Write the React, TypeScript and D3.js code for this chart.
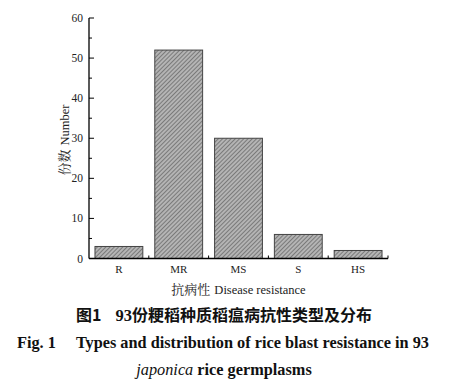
import React from "react";
import * as d3 from "d3";

const categories = ["R", "MR", "MS", "S", "HS"];
const counts = [3, 52, 30, 6, 2];
const yTicks = [0, 10, 20, 30, 40, 50, 60];
const yMinorTicks = [5, 15, 25, 35, 45, 55];

export default function App() {
  const W = 452, H = 385;
  const left = 89, right = 388, top = 18, bottom = 258.5;
  const x = d3.scaleBand<string>().domain(categories).range([left, right]).paddingInner(0.2).paddingOuter(0.1);
  const y = d3.scaleLinear().domain([0, 60]).range([bottom, top]);
  const step = x.step();
  const boundaries = categories.slice(0, -1).map((c) => (x(c) as number) + x.bandwidth() + (step * 0.2) / 2);
  const serif = "'Liberation Serif', 'Times New Roman', serif";
  const cjk = "'Noto Serif CJK SC', 'Noto Sans CJK SC', serif";
  return (
    <svg width={W} height={H} style={{ position: "absolute", left: 0, top: 0, background: "#fff" }}>
      <defs>
        <pattern id="hatch" patternUnits="userSpaceOnUse" width="3" height="3" patternTransform="rotate(45)">
          <rect width="3" height="3" fill="#b4b4b4" />
          <line x1="0" y1="0" x2="0" y2="3" stroke="#5a5a5a" strokeWidth="1.3" />
        </pattern>
      </defs>
      {counts.map((v, i) => (
        <rect key={categories[i]} x={x(categories[i])} y={y(v)} width={x.bandwidth()} height={bottom - y(v)}
          fill="url(#hatch)" stroke="#444" strokeWidth={1} />
      ))}
      {/* y axis */}
      <line x1={left} x2={left} y1={top} y2={bottom} stroke="#000" strokeWidth={1.3} />
      {yTicks.map((t) => (
        <g key={t}>
          <line x1={left} x2={left + 5} y1={y(t)} y2={y(t)} stroke="#000" strokeWidth={1} />
          <text x={left - 6} y={y(t)} dy="0.35em" textAnchor="end" fontFamily={serif} fontSize={11.5} fill="#222">{t}</text>
        </g>
      ))}
      {yMinorTicks.map((t) => (
        <line key={t} x1={left} x2={left + 3} y1={y(t)} y2={y(t)} stroke="#000" strokeWidth={1} />
      ))}
      {/* x axis */}
      <line x1={left} x2={right} y1={bottom} y2={bottom} stroke="#000" strokeWidth={1.3} />
      {boundaries.map((b, i) => (
        <line key={i} x1={b} x2={b} y1={bottom} y2={bottom - 3} stroke="#000" strokeWidth={1} />
      ))}
      <line x1={right} x2={right} y1={bottom} y2={bottom - 3} stroke="#000" strokeWidth={1} />
      {categories.map((c) => (
        <text key={c} x={(x(c) as number) + x.bandwidth() / 2} y={273} textAnchor="middle" fontFamily={serif} fontSize={11} fill="#222">{c}</text>
      ))}
      <text x={238.5} y={294} textAnchor="middle" fontFamily={serif} fontSize={12.5} fill="#222">
        <tspan fontFamily={cjk} fontSize={13}>抗病性</tspan>
        <tspan dx={4}>Disease resistance</tspan>
      </text>
      <text transform={`translate(69,${140}) rotate(-90)`} textAnchor="middle" fontFamily={serif} fontSize={12.5} fill="#222">
        <tspan fontFamily={cjk} fontSize={13}>份数</tspan>
        <tspan dx={4}>Number</tspan>
      </text>
      {/* caption */}
      <text x={224} y={321} textAnchor="middle" fontFamily="'Noto Sans CJK SC', sans-serif" fontWeight="bold" fontSize={16} fill="#111">
        <tspan>图1</tspan>
        <tspan dx={14} fontFamily={serif} fontSize={16.5}>93</tspan>
        <tspan>份粳稻种质稻瘟病抗性类型及分布</tspan>
      </text>
      <text x={17} y={348} fontFamily={serif} fontWeight="bold" fontSize={16.3} fill="#111">
        <tspan>Fig. 1</tspan>
        <tspan dx={20}>Types and distribution of rice blast resistance in 93</tspan>
      </text>
      <text x={224} y={375} textAnchor="middle" fontFamily={serif} fontWeight="bold" fontSize={16.3} fill="#111">
        <tspan fontStyle="italic" fontWeight="normal">japonica</tspan>
        <tspan> rice germplasms</tspan>
      </text>
    </svg>
  );
}
